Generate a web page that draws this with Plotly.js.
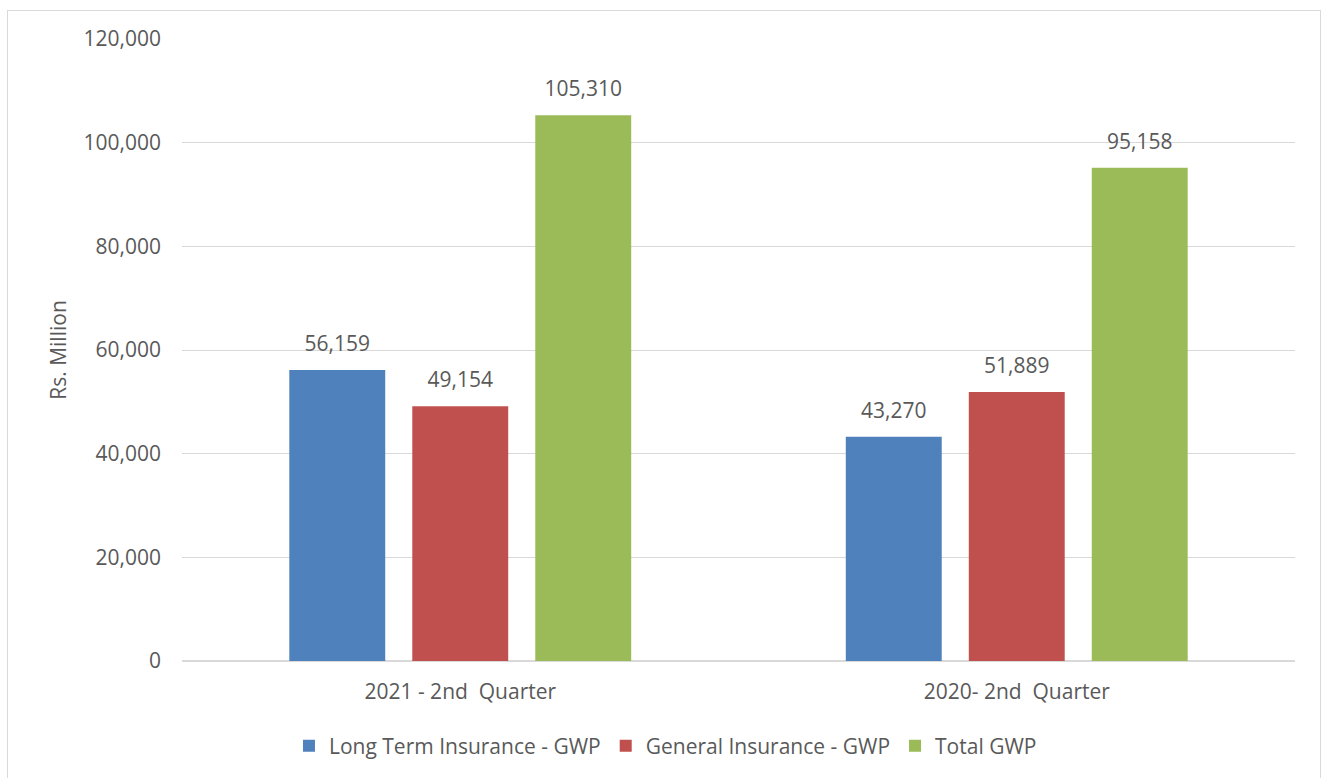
<!DOCTYPE html>
<html>
<head>
<meta charset="utf-8">
<script src="https://cdn.plot.ly/plotly-3.0.1.min.js"></script>
<style>
  html, body { margin: 0; padding: 0; background: #fff; overflow: hidden; }
  #frame { position: absolute; left: 7px; top: 10px; width: 1314px; height: 780px; border: 1px solid #d9d9d9; box-sizing: border-box; }
  #chart { position: absolute; left: 0; top: 0; width: 1323px; height: 778px; }
</style>
</head>
<body>
<div id="frame"></div>
<div id="chart"></div>
<script>
const categories = ["2021 - 2nd\u00a0 Quarter", "2020- 2nd\u00a0 Quarter"];
const seriesNames = ["Long Term Insurance - GWP", "General Insurance - GWP", "Total GWP"];
const longTerm = [56159, 43270];
const general = [49154, 51889];
const total = [105310, 95158];
const yTicks = [0, 20000, 40000, 60000, 80000, 100000, 120000];

const colors = ["#4F81BD", "#C0504D", "#9BBB59"];
const values = [longTerm, general, total];
const font = "'Open Sans', 'Liberation Sans', sans-serif";
const textColor = "#595959";
const fs = 21;

const traces = [];
values.forEach((v, i) => {
  traces.push({
    type: "bar",
    name: seriesNames[i],
    x: categories,
    y: v,
    marker: { color: colors[i] },
    offsetgroup: String(i),
    hoverinfo: "skip"
  });
});
values.forEach((v, i) => {
  traces.push({
    type: "scatter",
    mode: "markers+text",
    x: categories,
    y: v,
    offsetgroup: String(i),
    text: v.map(n => n.toLocaleString("en-US")),
    textposition: "top center",
    textfont: { family: font, size: fs, color: textColor },
    marker: { size: 20, opacity: 0 },
    showlegend: false,
    hoverinfo: "skip",
    cliponaxis: false
  });
});

const layout = {
  width: 1323,
  height: 778,
  paper_bgcolor: "rgba(0,0,0,0)",
  plot_bgcolor: "rgba(0,0,0,0)",
  margin: { l: 182, r: 28, t: 39, b: 117 },
  barmode: "group",
  bargap: 0.337,
  bargroupgap: 0.22,
  scattermode: "group",
  scattergap: 0.337,
  font: { family: font, size: fs, color: textColor },
  showlegend: true,
  legend: {
    orientation: "h",
    xref: "container",
    yref: "container",
    x: 0.503,
    xanchor: "center",
    y: 32 / 778,
    yanchor: "middle",
    font: { family: font, size: fs, color: textColor },
    itemclick: false
  },
  xaxis: {
    type: "category",
    showgrid: false,
    showline: false,
    zeroline: false,
    ticks: "",
    ticklabelstandoff: 16,
    tickfont: { family: font, size: fs, color: textColor },
    automargin: false,
    fixedrange: true
  },
  yaxis: {
    range: [0, 120000],
    tickvals: yTicks,
    ticktext: yTicks.map(n => n.toLocaleString("en-US")),
    showgrid: true,
    gridcolor: "#d9d9d9",
    gridwidth: 1,
    zeroline: true,
    zerolinecolor: "#d9d9d9",
    zerolinewidth: 2,
    showline: false,
    ticks: "",
    ticklabelstandoff: 20,
    tickfont: { family: font, size: fs, color: textColor },
    title: { text: "Rs. Million", font: { family: font, size: fs, color: textColor }, standoff: 11 },
    automargin: false,
    fixedrange: true
  }
};

Plotly.newPlot("chart", traces, layout, { staticPlot: true, displayModeBar: false });
</script>
</body>
</html>
